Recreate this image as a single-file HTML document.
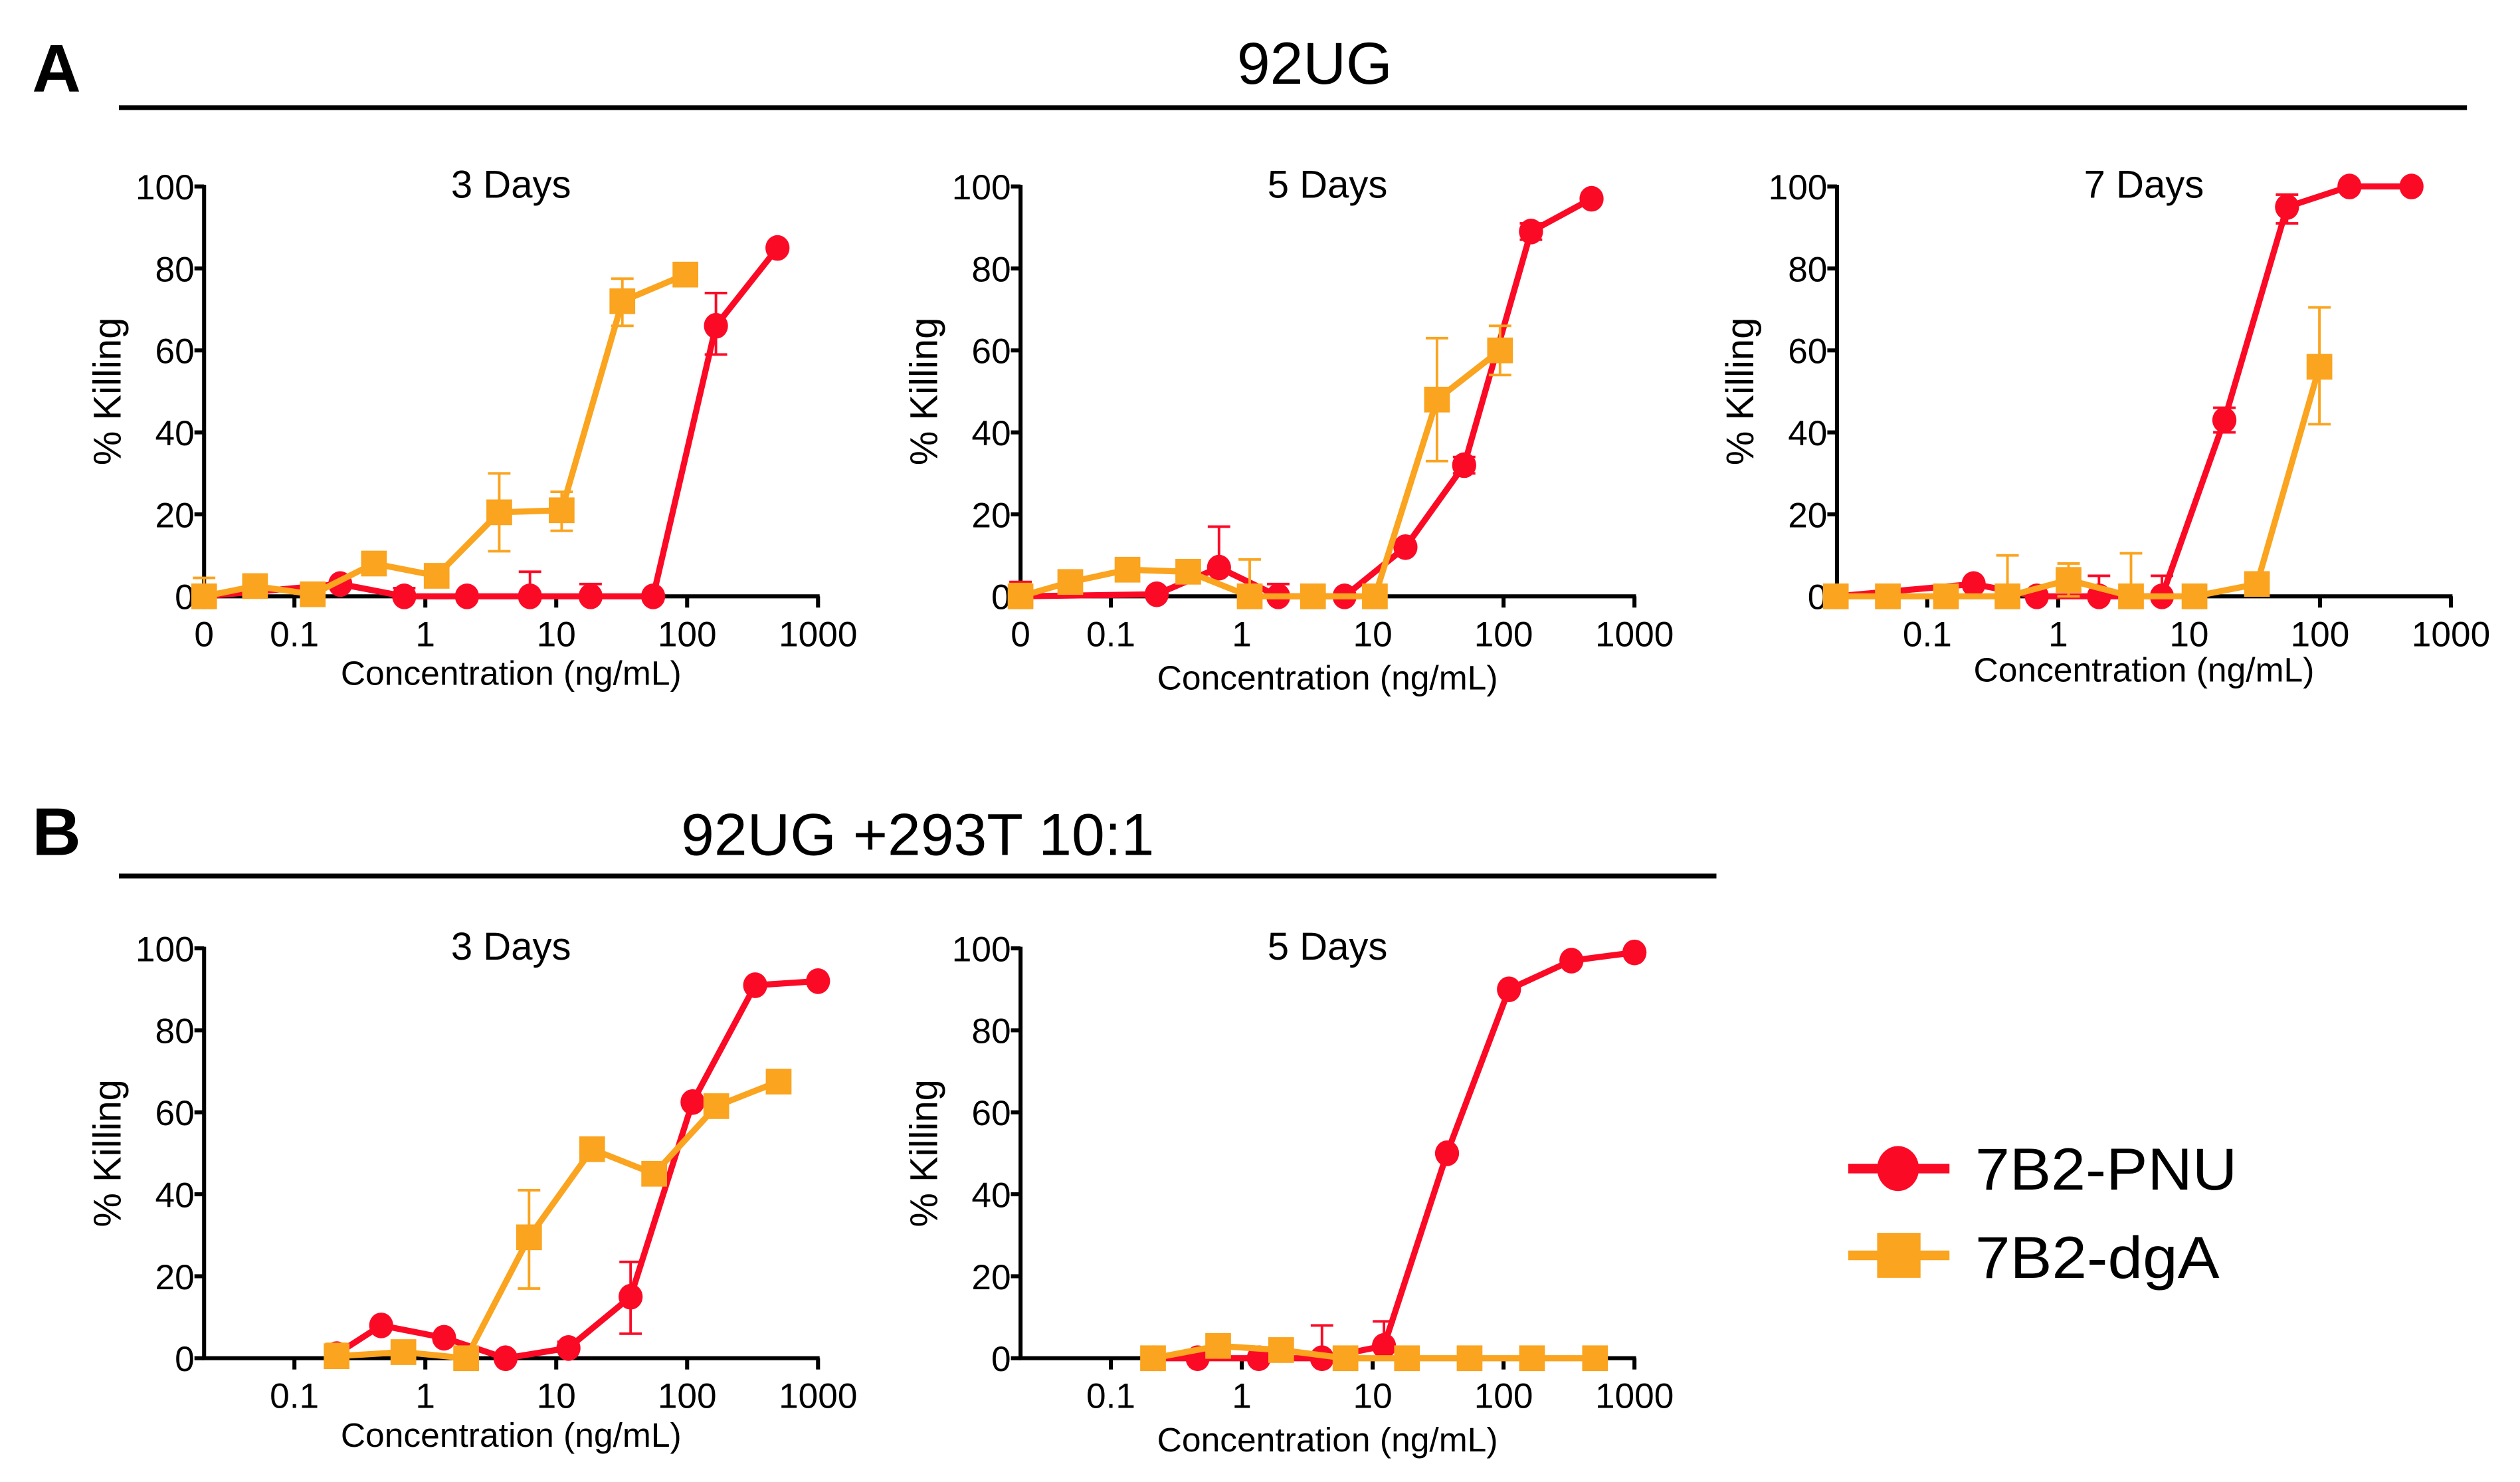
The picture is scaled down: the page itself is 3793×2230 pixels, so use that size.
<!DOCTYPE html>
<html><head><meta charset="utf-8">
<style>
html,body{margin:0;padding:0;background:#fff;}
svg{display:block;}
text{font-family:"Liberation Sans",sans-serif;fill:#000;}
</style></head>
<body>
<svg id="fig" width="3793" height="2230" viewBox="0 0 1568 922" preserveAspectRatio="none" xmlns="http://www.w3.org/2000/svg">
  <text x="20" y="57" font-size="42" font-weight="bold">A</text>
  <text x="818" y="52" font-size="37" text-anchor="middle">92UG</text>
  <line x1="74" y1="67" x2="1535" y2="67" stroke="#000" stroke-width="3"/>
  <text x="20" y="532" font-size="42" font-weight="bold">B</text>
  <text x="571" y="532" font-size="37" text-anchor="middle">92UG +293T 10:1</text>
  <line x1="74" y1="545" x2="1068" y2="545" stroke="#000" stroke-width="3"/>
  <g>
    <g>
      <line x1="1150" y1="727" x2="1213" y2="727" stroke="#FB0A26" stroke-width="6"/>
      <ellipse cx="1181" cy="727" rx="13" ry="14" fill="#FB0A26"/>
      <text x="1229" y="740" font-size="37" textLength="163" lengthAdjust="spacingAndGlyphs">7B2-PNU</text>
    </g>
    <g>
      <line x1="1150" y1="781" x2="1213" y2="781" stroke="#FAA41F" stroke-width="6"/>
      <rect x="1168" y="767" width="27" height="28" fill="#FAA41F"/>
      <text x="1229" y="795" font-size="37" textLength="152" lengthAdjust="spacingAndGlyphs">7B2-dgA</text>
    </g>
  </g>
</svg>
<script>
// Concentrations (ng/mL); 0 means the "0" control plotted at axis origin
const a1PnuConc = [0, 0.224, 0.69, 2.08, 6.3, 18.3, 55, 166, 490];
const a1PnuVal  = [0, 3, 0, 0, 0, 0, 0, 66, 85];
const a1PnuHi   = [null, null, 2, null, 6, 3, null, 74, null];
const a1PnuLo   = [null, null, null, null, null, null, null, 59, null];
const a1DgaConc = [0, 0.05, 0.138, 0.405, 1.22, 3.67, 11, 32, 97];
const a1DgaVal  = [0, 2.5, 0.5, 8, 5, 20.5, 21, 72, 78.5];
const a1DgaHi   = [4.5, null, null, null, null, 30, 25.5, 77.5, null];
const a1DgaLo   = [null, null, null, null, null, 11, 16, 66, null];

const a2PnuConc = [0, 0.224, 0.67, 1.9, 6.1, 17.8, 50, 162, 470];
const a2PnuVal  = [0, 0.5, 7, 0, 0, 12, 32, 89, 97];
const a2PnuHi   = [3.5, null, 17, 3, null, null, 34, 91, null];
const a2PnuLo   = [null, null, null, null, null, null, 30, 87, null];
const a2DgaConc = [0, 0.049, 0.134, 0.39, 1.15, 3.5, 10.4, 31, 94];
const a2DgaVal  = [0, 3.5, 6.5, 6, 0, 0, 0, 48, 60];
const a2DgaHi   = [3, null, 9, null, 9, null, null, 63, 66];
const a2DgaLo   = [null, null, null, null, null, null, null, 33, 54];

const a3PnuConc = [0.02, 0.226, 0.687, 2.05, 6.2, 18.6, 56, 168, 500];
const a3PnuVal  = [0, 3, 0, 0, 0, 43, 95, 100, 100];
const a3PnuHi   = [null, null, null, 5, 5, 46, 98, null, null];
const a3PnuLo   = [null, null, null, null, null, 40, 91, null, null];
const a3DgaConc = [0.02, 0.05, 0.139, 0.41, 1.2, 3.6, 11, 33, 99];
const a3DgaVal  = [0, 0, 0, 0, 4, 0, 0, 3, 56];
const a3DgaHi   = [2, null, null, 10, 8, 10.5, null, null, 70.5];
const a3DgaLo   = [null, null, null, null, 0, null, null, null, 42];

const b1PnuConc = [0.21, 0.46, 1.39, 4.1, 12.4, 37, 110, 331, 1000];
const b1PnuVal  = [1, 8, 5, 0, 2.5, 15, 62.5, 91, 92];
const b1PnuHi   = [null, null, null, null, 4, 23.5, null, null, null];
const b1PnuLo   = [null, null, null, null, null, 6, null, null, null];
const b1DgaConc = [0.21, 0.68, 2.05, 6.2, 18.8, 56, 167, 500];
const b1DgaVal  = [0.5, 1.5, 0, 29.5, 51, 45, 61.5, 67.5];
const b1DgaHi   = [3.5, null, null, 41, null, null, null, null];
const b1DgaLo   = [null, null, null, 17, null, null, null, null];

const b2PnuConc = [0.21, 0.46, 1.35, 4.1, 12.2, 37, 110, 330, 1000];
const b2PnuVal  = [0, 0, 0, 0, 3, 50, 90, 97, 99];
const b2PnuHi   = [null, 1, null, 8, 9, null, null, null, null];
const b2PnuLo   = [null, null, null, null, null, null, null, null, null];
const b2DgaConc = [0.21, 0.66, 2.0, 6.2, 18.3, 55, 165, 500];
const b2DgaVal  = [0, 3, 2, 0, 0, 0, 0, 0];
const b2DgaHi   = [null, null, null, null, null, null, null, null];
const b2DgaLo   = [null, null, null, null, null, null, null, null];

const yTicks = [0, 20, 40, 60, 80, 100];
const xTickValsZero = [0, 0.1, 1, 10, 100, 1000];
const xTickLabelsZero = ["0", "0.1", "1", "10", "100", "1000"];
const xTickVals = [0.1, 1, 10, 100, 1000];
const xTickLabels = ["0.1", "1", "10", "100", "1000"];
const panelTitles = ["3 Days", "5 Days", "7 Days", "3 Days", "5 Days"];

const NS = "http://www.w3.org/2000/svg";
const svg = document.getElementById("fig");
const RED = "#FB0A26", ORANGE = "#FAA41F";
const LOGMIN = -1.69, LOGMAX = 3;

function mk(tag, attrs, parent) {
  const e = document.createElementNS(NS, tag);
  for (const k in attrs) e.setAttribute(k, attrs[k]);
  parent.appendChild(e);
  return e;
}

function drawPanel(id, x0, yTop, yBot, title, tickVals, tickLabels, labelDy, series) {
  const W = 382;
  const g = mk("g", {}, svg);
  
  
  const xs = c => x0 + ((c <= 0 ? LOGMIN : Math.log10(c)) - LOGMIN) / (LOGMAX - LOGMIN) * W;
  const ys = v => yBot - v / 100 * (yBot - yTop);

  const t = mk("text", {x: x0 + 191, y: yTop + 7, "font-size": 24, "text-anchor": "middle"}, g);
  t.textContent = title;
  
  

  const yl = mk("text", {x: 0, y: 0, "font-size": 24, "text-anchor": "middle",
    transform: `translate(${x0 - 52},${(yTop + yBot) / 2}) rotate(-90)`}, g);
  yl.textContent = "% Killing";
  
  

  const xl = mk("text", {x: x0 + 191, y: yBot + 55 + labelDy, "font-size": 21, "text-anchor": "middle",
    textLength: 212, lengthAdjust: "spacingAndGlyphs"}, g);
  xl.textContent = "Concentration (ng/mL)";
  
  

  const ax = mk("g", {stroke: "#000", "stroke-width": 2.5}, g);
  
  
  mk("line", {x1: x0, y1: yTop - 1, x2: x0, y2: yBot + 1}, ax);
  mk("line", {x1: x0 - 1, y1: yBot, x2: x0 + W + 1, y2: yBot}, ax);
  yTicks.forEach(v => {
    mk("line", {x1: x0 - 6, y1: ys(v), x2: x0, y2: ys(v)}, ax);
    const tl = mk("text", {x: x0 - 6, y: ys(v) + 8, "font-size": 22, "text-anchor": "end", stroke: "none"}, g);
    tl.textContent = String(v);
    
    
  });
  tickVals.forEach((v, i) => {
    const px = xs(v);
    if (v > 0) mk("line", {x1: px, y1: yBot, x2: px, y2: yBot + 7}, ax);
    const tl = mk("text", {x: px, y: yBot + 31, "font-size": 22, "text-anchor": "middle", stroke: "none"}, g);
    tl.textContent = tickLabels[i];
    
    
  });

  series.forEach(s => {
    const sg = mk("g", {}, g);
    
    
    s.conc.forEach((c, i) => {
      const px = xs(c);
      [s.hi[i], s.lo[i]].forEach(e => {
        if (e === null || e === undefined) return;
        const eb = mk("path", {d: `M${px},${ys(s.val[i])}V${ys(e)}M${px - 7},${ys(e)}H${px + 7}`,
          stroke: s.color, "stroke-width": 1.6, fill: "none"}, sg);
        
        
      });
    });
    const d = s.conc.map((c, i) => (i ? "L" : "M") + xs(c) + "," + ys(s.val[i])).join("");
    const ln = mk("path", {d, stroke: s.color, "stroke-width": 3.8, fill: "none", "stroke-linejoin": "round"}, sg);
    
    
    s.conc.forEach((c, i) => {
      let m;
      if (s.shape === "circle") m = mk("ellipse", {cx: xs(c), cy: ys(s.val[i]), rx: 7.5, ry: 8, fill: s.color}, sg);
      else m = mk("rect", {x: xs(c) - 8, y: ys(s.val[i]) - 8, width: 16, height: 16, fill: s.color}, sg);
      
      
    });
  });
}

function S(name, color, shape, conc, val, hi, lo) { return {name, color, shape, conc, val, hi, lo}; }

drawPanel("panel-a-3-days", 127, 116, 371, panelTitles[0], xTickValsZero, xTickLabelsZero, 0, [
  S("series-7b2-pnu", RED, "circle", a1PnuConc, a1PnuVal, a1PnuHi, a1PnuLo),
  S("series-7b2-dga", ORANGE, "square", a1DgaConc, a1DgaVal, a1DgaHi, a1DgaLo)]);
drawPanel("panel-a-5-days", 635, 116, 371, panelTitles[1], xTickValsZero, xTickLabelsZero, 3, [
  S("series-7b2-pnu", RED, "circle", a2PnuConc, a2PnuVal, a2PnuHi, a2PnuLo),
  S("series-7b2-dga", ORANGE, "square", a2DgaConc, a2DgaVal, a2DgaHi, a2DgaLo)]);
drawPanel("panel-a-7-days", 1143, 116, 371, panelTitles[2], xTickVals, xTickLabels, -2, [
  S("series-7b2-pnu", RED, "circle", a3PnuConc, a3PnuVal, a3PnuHi, a3PnuLo),
  S("series-7b2-dga", ORANGE, "square", a3DgaConc, a3DgaVal, a3DgaHi, a3DgaLo)]);
drawPanel("panel-b-3-days", 127, 590, 845, panelTitles[3], xTickVals, xTickLabels, 0, [
  S("series-7b2-pnu", RED, "circle", b1PnuConc, b1PnuVal, b1PnuHi, b1PnuLo),
  S("series-7b2-dga", ORANGE, "square", b1DgaConc, b1DgaVal, b1DgaHi, b1DgaLo)]);
drawPanel("panel-b-5-days", 635, 590, 845, panelTitles[4], xTickVals, xTickLabels, 3, [
  S("series-7b2-pnu", RED, "circle", b2PnuConc, b2PnuVal, b2PnuHi, b2PnuLo),
  S("series-7b2-dga", ORANGE, "square", b2DgaConc, b2DgaVal, b2DgaHi, b2DgaLo)]);
</script>
</body></html>
